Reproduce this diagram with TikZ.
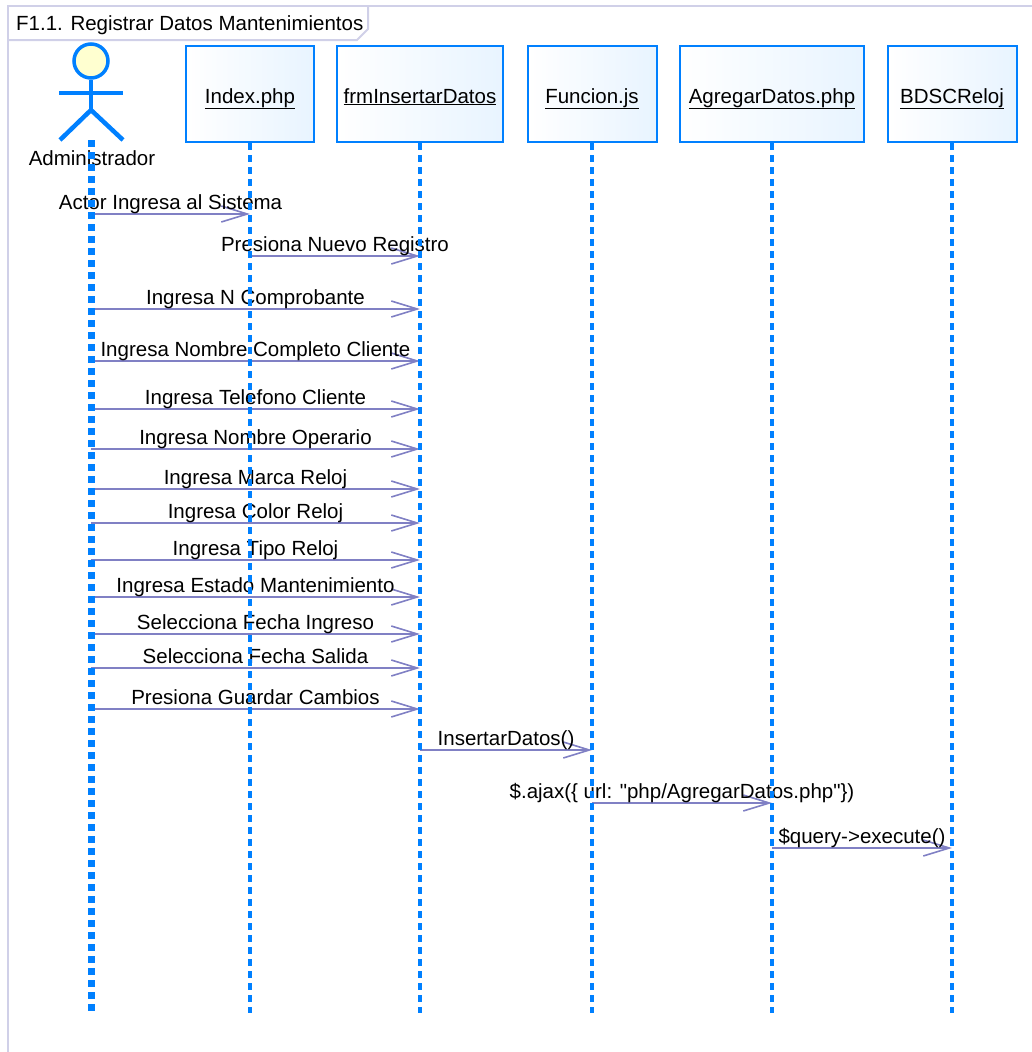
\documentclass[tikz,border=0pt]{standalone}
\usepackage{fontspec}
\setmainfont{Liberation Sans}[Ligatures=TeXOff]
\usetikzlibrary{arrows.meta}
\definecolor{lifeblue}{RGB}{0,128,255}
\definecolor{msgcol}{RGB}{128,128,196}
\definecolor{framecol}{RGB}{208,208,232}
\definecolor{boxfill}{RGB}{232,244,255}
\definecolor{headfill}{RGB}{255,255,208}
\begin{document}
\begin{tikzpicture}[
		x=1pt,y=1pt,
		font=\fontsize{20.5}{24}\selectfont,
		frameline/.style = {draw=framecol, line width=2pt},
		obj/.style = {rectangle, draw=lifeblue, line width=2pt, left color=white, right color=boxfill, minimum height=96pt, text height=22pt, text depth=4pt, inner sep=0pt},
		actor/.style = {draw=lifeblue, line width=4.5pt},
		life/.style = {draw=lifeblue, line width=3.5pt, dash pattern=on 7pt off 5pt},
		admlife/.style = {life, line width=7pt},
		msg/.style = {-{Straight Barb[length=26pt,width=16pt]}, msgcol, line width=1.6pt},
		lbl/.style = {midway, anchor=base, yshift=5pt, inner sep=0pt, text=black}
	]
	\useasboundingbox (0,0) rectangle (1032,-1052);
	\draw [frameline] (8,-1052) -- (8,-6) -- (1032,-6);
	\draw [frameline] (8,-40) -- (357,-40) -- (368,-29) -- (368,-6);
	\node (title) [anchor=base west, inner sep=0pt] at (16,-30) {F1.1. Registrar Datos Mantenimientos};

	\node (head) [circle, draw=lifeblue, line width=3.5pt, fill=headfill, minimum size=34pt, inner sep=0pt] at (91,-61) {};
	\coordinate (hip) at (91,-110);
	\coordinate (armL) at (59,-93);
	\coordinate (armR) at (123,-93);
	\coordinate (footL) at (60,-140);
	\coordinate (footR) at (123,-140);
	\draw [actor] (head.south) -- (hip);
	\draw [actor] (armL) -- (armR);
	\draw [actor] (footL) -- (hip) -- (footR);
	\node (admLbl) at (92,-158) {Administrador};

	\node (idx) [obj, minimum width=128pt] at (250,-94) {\underline{Index.php}};
	\node (frm) [obj, minimum width=166pt] at (420,-94) {\underline{frmInsertarDatos}};
	\node (fun) [obj, minimum width=129pt] at (592,-94) {\underline{Funcion.js}};
	\node (agr) [obj, minimum width=184pt] at (772,-94) {\underline{AgregarDatos.php}};
	\node (bds) [obj, minimum width=129pt] at (952,-94) {\underline{BDSCReloj}};

	\coordinate (admTop) at (91,-140);
	\coordinate (admEnd) at (91,-1013);
	\coordinate (idxEnd) at (250,-1013);
	\coordinate (frmEnd) at (420,-1013);
	\coordinate (funEnd) at (592,-1013);
	\coordinate (agrEnd) at (772,-1013);
	\coordinate (bdsEnd) at (952,-1013);

	\coordinate (m1s) at (91,-214);
	\coordinate (m1e) at (250,-214);
	\coordinate (m2s) at (250,-256);
	\coordinate (m2e) at (420,-256);
	\coordinate (m3s) at (91,-309);
	\coordinate (m3e) at (420,-309);
	\coordinate (m4s) at (91,-361);
	\coordinate (m4e) at (420,-361);
	\coordinate (m5s) at (91,-409);
	\coordinate (m5e) at (420,-409);
	\coordinate (m6s) at (91,-449);
	\coordinate (m6e) at (420,-449);
	\coordinate (m7s) at (91,-489);
	\coordinate (m7e) at (420,-489);
	\coordinate (m8s) at (91,-523);
	\coordinate (m8e) at (420,-523);
	\coordinate (m9s) at (91,-560);
	\coordinate (m9e) at (420,-560);
	\coordinate (m10s) at (91,-597);
	\coordinate (m10e) at (420,-597);
	\coordinate (m11s) at (91,-634);
	\coordinate (m11e) at (420,-634);
	\coordinate (m12s) at (91,-668);
	\coordinate (m12e) at (420,-668);
	\coordinate (m13s) at (91,-709);
	\coordinate (m13e) at (420,-709);
	\coordinate (m14s) at (420,-750);
	\coordinate (m14e) at (592,-750);
	\coordinate (m15s) at (592,-803);
	\coordinate (m15e) at (772,-803);
	\coordinate (m16s) at (772,-848);
	\coordinate (m16e) at (952,-848);

	\path [msg] (m1s) edge node [lbl] {Actor Ingresa al Sistema} (m1e);
	\path [msg] (m2s) edge node [lbl] {Presiona Nuevo Registro} (m2e);
	\path [msg] (m3s) edge node [lbl] {Ingresa N Comprobante} (m3e);
	\path [msg] (m4s) edge node [lbl] {Ingresa Nombre Completo Cliente} (m4e);
	\path [msg] (m5s) edge node [lbl] {Ingresa Telefono Cliente} (m5e);
	\path [msg] (m6s) edge node [lbl] {Ingresa Nombre Operario} (m6e);
	\path [msg] (m7s) edge node [lbl] {Ingresa Marca Reloj} (m7e);
	\path [msg] (m8s) edge node [lbl] {Ingresa Color Reloj} (m8e);
	\path [msg] (m9s) edge node [lbl] {Ingresa Tipo Reloj} (m9e);
	\path [msg] (m10s) edge node [lbl] {Ingresa Estado Mantenimiento} (m10e);
	\path [msg] (m11s) edge node [lbl] {Selecciona Fecha Ingreso} (m11e);
	\path [msg] (m12s) edge node [lbl] {Selecciona Fecha Salida} (m12e);
	\path [msg] (m13s) edge node [lbl] {Presiona Guardar Cambios} (m13e);
	\path [msg] (m14s) edge node [lbl] {InsertarDatos()} (m14e);
	\path [msg] (m15s) edge node [lbl] {\$.ajax(\{ url: "php/AgregarDatos.php"\})} (m15e);
	\path [msg] (m16s) edge node [lbl] {\$query->execute()} (m16e);

	\draw [admlife] (admTop) -- (admEnd);
	\draw [life] (idx.south) -- (idxEnd);
	\draw [life] (frm.south) -- (frmEnd);
	\draw [life] (fun.south) -- (funEnd);
	\draw [life] (agr.south) -- (agrEnd);
	\draw [life] (bds.south) -- (bdsEnd);
\end{tikzpicture}
\end{document}
